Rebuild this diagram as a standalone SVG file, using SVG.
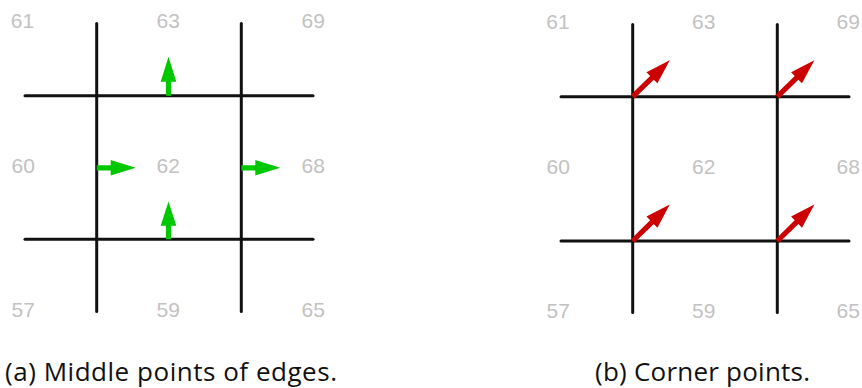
<svg xmlns="http://www.w3.org/2000/svg" width="862" height="388" viewBox="0 0 862 388">
<style>
  .grid { stroke: #111; stroke-width: 3; fill: none; stroke-linecap: round; }
  .num { font-family: "Liberation Sans", Arial, sans-serif; font-size: 21px; fill: #c2c2c2; text-anchor: middle; }
  .cap { font-family: "Open Sans", "DejaVu Sans", sans-serif; font-size: 26px; fill: #111; }
  .green { fill: #00c800; }
  .red { fill: #cc0000; }
</style>
<defs>
  <polygon id="arrowG" points="0,-2.6 14,-2.6 14,-7.8 39,0 14,7.8 14,2.6 0,2.6"/>
  <polygon id="arrowR" points="0,-2.6 27,-2.6 27,-7.8 52,0 27,7.8 27,2.6 0,2.6"/>
</defs>

<g id="panel-a">
  <g id="grid-a">
    <line class="grid" x1="96.7" y1="23.5" x2="96.7" y2="311.5"/>
    <line class="grid" x1="241.3" y1="23.5" x2="241.3" y2="311.5"/>
    <line class="grid" x1="25" y1="95.7" x2="313" y2="95.7"/>
    <line class="grid" x1="25" y1="239.3" x2="313" y2="239.3"/>
  </g>
  <g id="labels-a">
    <text class="num" x="22.5" y="27.5">61</text>
    <text class="num" x="168.3" y="27.5">63</text>
    <text class="num" x="313.3" y="27.5">69</text>
    <text class="num" x="23.3" y="172.7">60</text>
    <text class="num" x="168.3" y="172.7">62</text>
    <text class="num" x="313.3" y="172.7">68</text>
    <text class="num" x="23.3" y="316.5">57</text>
    <text class="num" x="168.3" y="316.5">59</text>
    <text class="num" x="313.3" y="316.5">65</text>
  </g>
  <g id="arrows-a" class="green">
    <use href="#arrowG" transform="translate(168.5,95.7) rotate(-90)"/>
    <use href="#arrowG" transform="translate(168.5,239.3) rotate(-90) scale(0.97,1)"/>
    <use href="#arrowG" transform="translate(96.7,167.8)"/>
    <use href="#arrowG" transform="translate(241.3,167.8)"/>
  </g>
  <text id="caption-a" class="cap" x="5" y="380.5" textLength="332">(a) Middle points of edges.</text>
</g>

<g id="panel-b">
  <g id="grid-b">
    <line class="grid" x1="632.7" y1="24.5" x2="632.7" y2="312.5"/>
    <line class="grid" x1="777.3" y1="24.5" x2="777.3" y2="312.5"/>
    <line class="grid" x1="561" y1="96.7" x2="849" y2="96.7"/>
    <line class="grid" x1="561" y1="241" x2="849" y2="241"/>
  </g>
  <g id="labels-b">
    <text class="num" x="558" y="28.5">61</text>
    <text class="num" x="703.8" y="28.5">63</text>
    <text class="num" x="848.3" y="28.5">69</text>
    <text class="num" x="558.3" y="173.5">60</text>
    <text class="num" x="703.8" y="173.5">62</text>
    <text class="num" x="848.3" y="173.5">68</text>
    <text class="num" x="558.3" y="318">57</text>
    <text class="num" x="703.8" y="318">59</text>
    <text class="num" x="848.3" y="318">65</text>
  </g>
  <g id="arrows-b" class="red">
    <use href="#arrowR" transform="translate(632.7,96.7) rotate(-44.5)"/>
    <use href="#arrowR" transform="translate(777.3,96.7) rotate(-44.5)"/>
    <use href="#arrowR" transform="translate(632.7,241) rotate(-44.5)"/>
    <use href="#arrowR" transform="translate(777.3,241) rotate(-44.5)"/>
  </g>
  <text id="caption-b" class="cap" x="595" y="380.5" textLength="215">(b) Corner points.</text>
</g>
</svg>
